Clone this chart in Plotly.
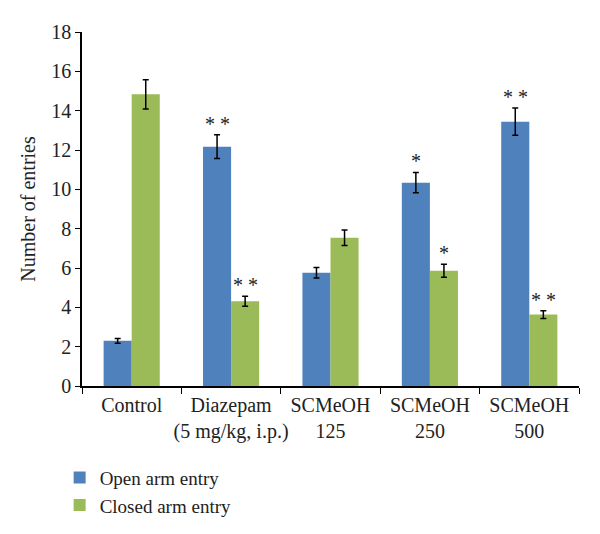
import plotly.graph_objects as go

categories = ["Control", "Diazepam<br>(5 mg/kg, i.p.)", "SCMeOH<br>125", "SCMeOH<br>250", "SCMeOH<br>500"]
open_arm = [2.3, 12.17, 5.76, 10.34, 13.44]
open_err = [0.12, 0.6, 0.27, 0.52, 0.69]
closed_arm = [14.83, 4.31, 7.54, 5.86, 3.63]
closed_err = [0.74, 0.25, 0.39, 0.33, 0.2]
open_sig = ["", "* *", "", "*", "* *"]
closed_sig = ["", "* *", "", "*", "* *"]

FONT = "Liberation Serif"
fig = go.Figure()
fig.add_trace(go.Bar(
    x=categories, y=open_arm, name="Open arm entry",
    marker=dict(color="#4F81BD", line=dict(width=0)),
    error_y=dict(type="data", array=open_err, color="black", thickness=1.5, width=3),
))
fig.add_trace(go.Bar(
    x=categories, y=closed_arm, name="Closed arm entry",
    marker=dict(color="#9BBB59", line=dict(width=0)),
    error_y=dict(type="data", array=closed_err, color="black", thickness=1.5, width=3),
))

annotations = []
for c, v, e, s in zip(categories, open_arm, open_err, open_sig):
    if s:
        annotations.append(dict(x=c, y=v + e, text=s, showarrow=False, yanchor="bottom",
                                xshift=-14, yshift=-2, font=dict(family=FONT, size=20, color="#222")))
for c, v, e, s in zip(categories, closed_arm, closed_err, closed_sig):
    if s:
        annotations.append(dict(x=c, y=v + e, text=s, showarrow=False, yanchor="bottom",
                                xshift=14, yshift=-2, font=dict(family=FONT, size=20, color="#222")))

fig.update_layout(
    width=600, height=534,
    margin=dict(l=74, r=29, t=24, b=156, autoexpand=False),
    paper_bgcolor="white", plot_bgcolor="white",
    barmode="group", bargap=0.435, bargroupgap=0,
    font=dict(family=FONT, size=20, color="#222"),
    showlegend=True,
    legend=dict(x=-0.045, y=-0.205, xanchor="left", yanchor="top",
                font=dict(family=FONT, size=19, color="#222"),
                traceorder="normal", tracegroupgap=0, itemsizing="constant"),
    annotations=annotations,
    xaxis=dict(showline=True, linecolor="black", linewidth=1.5, ticks="outside",
               tickson="boundaries", ticklen=6, tickcolor="black", tickwidth=1.2,
               tickangle=0, automargin=False,
               tickfont=dict(family=FONT, size=20, color="#222"), showgrid=False),
    yaxis=dict(range=[0, 18], dtick=2, showline=True, linecolor="black", linewidth=1.5,
               ticks="outside", ticklen=5, tickcolor="black", tickwidth=1.2, automargin=False,
               tickfont=dict(family=FONT, size=20, color="#222"), showgrid=False, zeroline=False,
               title=dict(text="Number of entries", font=dict(family=FONT, size=20, color="#222"), standoff=10)),
)
fig.write_html("out.html")
